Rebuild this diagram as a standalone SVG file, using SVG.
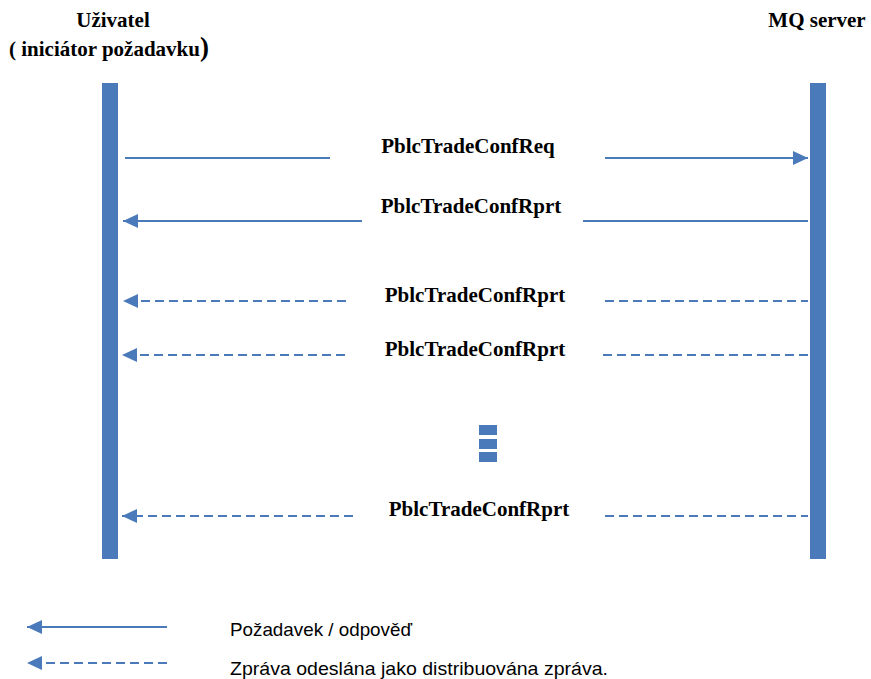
<svg xmlns="http://www.w3.org/2000/svg" width="871" height="679" viewBox="0 0 871 679">
<style>
.bar{fill:#4a7ab9}
.ln{stroke:#4a7ab9;stroke-width:2;fill:none}
.dash{stroke-dasharray:9 5}
.hd{font-family:"Liberation Serif","Times New Roman",serif;font-weight:bold;font-size:21px;fill:#000}
.lbl{font-family:"Liberation Serif","Times New Roman",serif;font-weight:bold;font-size:21px;fill:#000;text-anchor:middle}
.leg{font-family:"Liberation Sans",Arial,sans-serif;font-size:19px;fill:#000}
</style>
<defs>
<marker id="ah" markerWidth="16" markerHeight="14" refX="15" refY="7" orient="auto" markerUnits="userSpaceOnUse">
<path d="M0,0 L15,7 L0,14 Z" fill="#4a7ab9"/>
</marker>
</defs>
<g id="user">
<text class="hd" x="113" y="27" text-anchor="middle">Uživatel</text>
<text class="hd" x="9" y="56">( iniciátor požadavku<tspan font-size="27">)</tspan></text>
<rect class="bar" x="102" y="83" width="16" height="476"/>
</g>
<g id="server">
<text class="hd" x="817" y="27" text-anchor="middle">MQ server</text>
<rect class="bar" x="810" y="83" width="16" height="476"/>
</g>
<g id="connectors">
<line class="ln" x1="125" y1="158" x2="330" y2="158"/>
<line class="ln" x1="605" y1="158" x2="808" y2="158" marker-end="url(#ah)"/>
<line class="ln" x1="583" y1="221" x2="808" y2="221"/>
<line class="ln" x1="362" y1="221" x2="123" y2="221" marker-end="url(#ah)"/>
<line class="ln dash" x1="605" y1="301" x2="808" y2="301"/>
<line class="ln dash" x1="346" y1="301" x2="123" y2="301" marker-end="url(#ah)"/>
<line class="ln dash" x1="603" y1="355" x2="808" y2="355"/>
<line class="ln dash" x1="345" y1="355" x2="122" y2="355" marker-end="url(#ah)"/>
<line class="ln dash" x1="605" y1="516" x2="808" y2="516"/>
<line class="ln dash" x1="353" y1="516" x2="122" y2="516" marker-end="url(#ah)"/>
</g>
<g id="labels">
<text class="lbl" x="468" y="153">PblcTradeConfReq</text>
<text class="lbl" x="471" y="213">PblcTradeConfRprt</text>
<text class="lbl" x="475" y="302">PblcTradeConfRprt</text>
<text class="lbl" x="475" y="356">PblcTradeConfRprt</text>
<text class="lbl" x="479" y="516">PblcTradeConfRprt</text>
</g>
<g id="ellipsis">
<rect class="bar" x="479" y="425" width="18" height="10"/>
<rect class="bar" x="479" y="439" width="18" height="10"/>
<rect class="bar" x="479" y="452" width="18" height="10"/>
</g>
<g id="legend">
<line class="ln" x1="167" y1="627" x2="27" y2="627" marker-end="url(#ah)"/>
<line class="ln dash" x1="167" y1="663" x2="27" y2="663" marker-end="url(#ah)"/>
<text class="leg" x="230" y="636" textLength="182" lengthAdjust="spacingAndGlyphs">Požadavek / odpověď</text>
<text class="leg" x="230" y="675" textLength="378" lengthAdjust="spacingAndGlyphs">Zpráva odeslána jako distribuována zpráva.</text>
</g>
</svg>
